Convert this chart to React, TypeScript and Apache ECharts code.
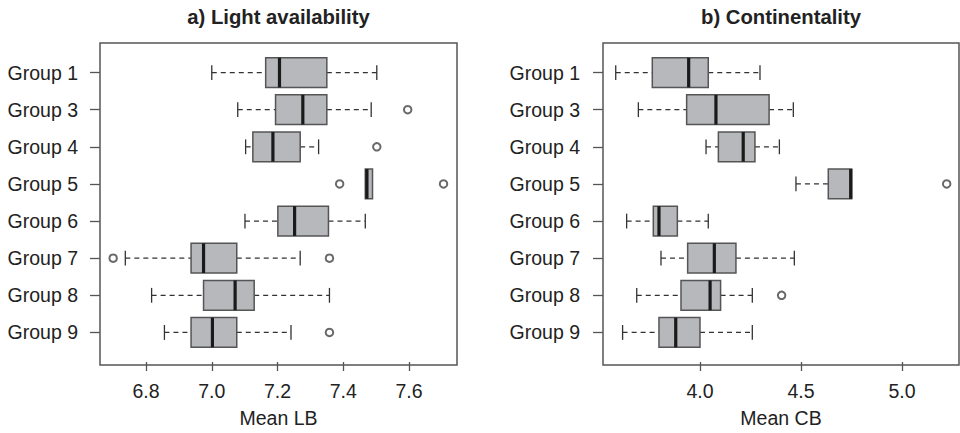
import React, { useEffect, useRef } from "react";
import * as echarts from "echarts";

const categories = ["Group 1", "Group 3", "Group 4", "Group 5", "Group 6", "Group 7", "Group 8", "Group 9"];

// a) Light availability (Mean LB)
const lbLow = [7.0, 7.079, 7.103, 7.467, 7.101, 6.737, 6.817, 6.856];
const lbQ1 = [7.164, 7.194, 7.125, 7.467, 7.201, 6.937, 6.975, 6.937];
const lbMed = [7.206, 7.277, 7.186, 7.472, 7.252, 6.975, 7.071, 7.002];
const lbQ3 = [7.35, 7.35, 7.269, 7.489, 7.355, 7.076, 7.129, 7.076];
const lbHigh = [7.502, 7.485, 7.325, 7.489, 7.467, 7.269, 7.358, 7.241];
const lbOutliers: [number, number][] = [
  [7.596, 1],
  [7.502, 2],
  [7.389, 3],
  [7.705, 3],
  [6.7, 5],
  [7.358, 5],
  [7.358, 7],
];
const lbTicks = [6.8, 7.0, 7.2, 7.4, 7.6];

// b) Continentality (Mean CB)
const cbLow = [3.583, 3.695, 4.03, 4.475, 3.637, 3.807, 3.687, 3.617];
const cbQ1 = [3.764, 3.934, 4.091, 4.635, 3.769, 3.939, 3.906, 3.797];
const cbMed = [3.944, 4.079, 4.214, 4.746, 3.797, 4.071, 4.05, 3.88];
const cbQ3 = [4.041, 4.342, 4.272, 4.751, 3.888, 4.178, 4.102, 4.0];
const cbHigh = [4.297, 4.462, 4.393, 4.751, 4.041, 4.467, 4.259, 4.259];
const cbOutliers: [number, number][] = [
  [5.221, 3],
  [4.404, 6],
];
const cbTicks = [4.0, 4.5, 5.0];

const FONT = "Liberation Sans, Arial, Helvetica, sans-serif";
const TEXT = "#222";
const BORDER = "#555";

function buildRows(low: number[], q1: number[], med: number[], q3: number[], high: number[]) {
  return categories.map((_, i) => [i, low[i], q1[i], med[i], q3[i], high[i]]);
}

function renderBox(params: any, api: any) {
  const idx = api.value(0);
  const pLo = api.coord([api.value(1), idx]);
  const pQ1 = api.coord([api.value(2), idx]);
  const pMed = api.coord([api.value(3), idx]);
  const pQ3 = api.coord([api.value(4), idx]);
  const pHi = api.coord([api.value(5), idx]);
  const band = api.size([0, 1])[1];
  const h = band * 0.8;
  const cap = h / 2;
  const y = pMed[1];
  const dash = { stroke: "#333", lineWidth: 1.3, lineDash: [5, 4] };
  const solid = { stroke: "#333", lineWidth: 1.3 };
  const children: any[] = [];
  if (pQ1[0] - pLo[0] > 0.5) {
    children.push({ type: "line", shape: { x1: pLo[0], y1: y, x2: pQ1[0], y2: y }, style: dash });
    children.push({ type: "line", shape: { x1: pLo[0], y1: y - cap / 2, x2: pLo[0], y2: y + cap / 2 }, style: solid });
  }
  if (pHi[0] - pQ3[0] > 0.5) {
    children.push({ type: "line", shape: { x1: pQ3[0], y1: y, x2: pHi[0], y2: y }, style: dash });
    children.push({ type: "line", shape: { x1: pHi[0], y1: y - cap / 2, x2: pHi[0], y2: y + cap / 2 }, style: solid });
  }
  children.push({
    type: "rect",
    shape: { x: pQ1[0], y: y - h / 2, width: Math.max(pQ3[0] - pQ1[0], 0.5), height: h },
    style: { fill: "#b7b8bc", stroke: BORDER, lineWidth: 1.5 },
  });
  children.push({
    type: "line",
    shape: { x1: pMed[0], y1: y - h / 2, x2: pMed[0], y2: y + h / 2 },
    style: { stroke: "#1a1a1a", lineWidth: 3.2 },
  });
  return { type: "group", children };
}

function makeAxes(gridIndex: number, min: number, max: number, ticks: number[], name: string, labelMargin: number) {
  const xAxis = {
    type: "value",
    gridIndex,
    min,
    max,
    offset: 11,
    splitLine: { show: false },
    axisLine: { show: false },
    axisTick: { show: true, customValues: ticks, length: 9, lineStyle: { color: BORDER, width: 1.3 } },
    axisLabel: {
      customValues: ticks,
      formatter: (v: number) => v.toFixed(1),
      fontFamily: FONT,
      fontSize: 19.5,
      color: TEXT,
      margin: 19,
    },
    name,
    nameLocation: "middle",
    nameGap: 46,
    nameTextStyle: { fontFamily: FONT, fontSize: 19.5, color: TEXT },
  };
  const yAxis = {
    type: "category",
    gridIndex,
    data: categories,
    inverse: true,
    axisLine: { show: false },
    splitLine: { show: false },
    axisTick: { show: true, alignWithLabel: true, length: 10, lineStyle: { color: BORDER, width: 1.3 } },
    axisLabel: { fontFamily: FONT, fontSize: 19.5, color: TEXT, margin: labelMargin },
  };
  return { xAxis, yAxis };
}

export default function App() {
  const ref = useRef<HTMLDivElement>(null);
  useEffect(() => {
    if (!ref.current) return;
    const chart = echarts.init(ref.current, undefined, { renderer: "svg" });
    const left = makeAxes(0, 6.66, 7.746, lbTicks, "Mean LB", 22);
    const right = makeAxes(1, 3.52, 5.282, cbTicks, "Mean CB", 23);
    const frames = [
      { x: 100, w: 357 },
      { x: 603, w: 356 },
    ];
    const outlierStyle = { color: "#444", borderColor: "#444", borderWidth: 1 };
    chart.setOption({
      animation: false,
      backgroundColor: "#fff",
      grid: [
        { left: 100, width: 357, top: 54, height: 300 },
        { left: 603, width: 356, top: 54, height: 300 },
      ],
      xAxis: [left.xAxis, right.xAxis],
      yAxis: [left.yAxis, right.yAxis],
      graphic: [
        ...frames.map((f) => ({
          type: "rect",
          shape: { x: f.x, y: 43, width: f.w, height: 322 },
          style: { fill: "none", stroke: BORDER, lineWidth: 1.5 },
          silent: true,
          z: 10,
        })),
        {
          type: "text",
          x: 278.5,
          y: 17,
          style: { text: "a) Light availability", fontFamily: FONT, fontWeight: "bold", fontSize: 20.3, fill: TEXT, textAlign: "center", textVerticalAlign: "middle" },
        },
        {
          type: "text",
          x: 781,
          y: 17,
          style: { text: "b) Continentality", fontFamily: FONT, fontWeight: "bold", fontSize: 20.3, fill: TEXT, textAlign: "center", textVerticalAlign: "middle" },
        },
      ],
      series: [
        {
          type: "custom",
          xAxisIndex: 0,
          yAxisIndex: 0,
          renderItem: renderBox,
          encode: { x: [1, 2, 3, 4, 5], y: 0 },
          data: buildRows(lbLow, lbQ1, lbMed, lbQ3, lbHigh),
          silent: true,
        },
        {
          type: "scatter",
          xAxisIndex: 0,
          yAxisIndex: 0,
          symbol: "emptyCircle",
          symbolSize: 7.5,
          itemStyle: outlierStyle,
          data: lbOutliers,
          silent: true,
          z: 5,
        },
        {
          type: "custom",
          xAxisIndex: 1,
          yAxisIndex: 1,
          renderItem: renderBox,
          encode: { x: [1, 2, 3, 4, 5], y: 0 },
          data: buildRows(cbLow, cbQ1, cbMed, cbQ3, cbHigh),
          silent: true,
        },
        {
          type: "scatter",
          xAxisIndex: 1,
          yAxisIndex: 1,
          symbol: "emptyCircle",
          symbolSize: 7.5,
          itemStyle: outlierStyle,
          data: cbOutliers,
          silent: true,
          z: 5,
        },
      ],
    });
    return () => chart.dispose();
  }, []);
  return <div ref={ref} style={{ position: "absolute", left: 0, top: 0, width: 960, height: 433 }} />;
}
